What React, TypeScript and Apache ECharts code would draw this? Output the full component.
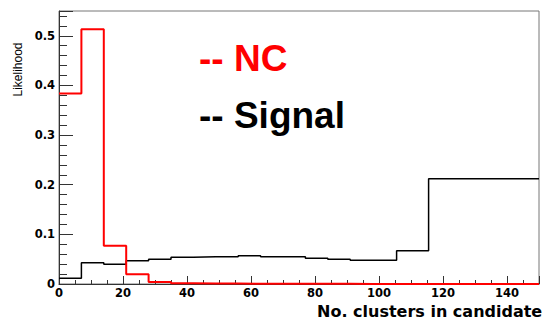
import React, { useEffect, useRef } from "react";
import * as echarts from "echarts";

// Histogram bin edges (No. clusters in candidate)
const binEdges = [0, 7, 14, 21, 28, 35, 42, 49, 56, 63, 70, 77, 84, 91, 98, 105.5, 115.5, 150];
// Likelihood per bin
const ncValues = [0.384, 0.513, 0.077, 0.0195, 0.004, 0.0015, 0.001, 0.0008, 0.0006, 0.0005, 0.0004, 0.0003, 0.0003, 0.0002, 0.0002, 0.0002, 0.0001];
const signalValues = [0.0115, 0.043, 0.04, 0.047, 0.05, 0.054, 0.055, 0.055, 0.057, 0.055, 0.055, 0.052, 0.05, 0.048, 0.048, 0.067, 0.212];
const xTickLabels = [0, 20, 40, 60, 80, 100, 120, 140];
const yTickLabels = [0, 0.1, 0.2, 0.3, 0.4, 0.5];
const legendTexts = ["-- NC", "-- Signal"];
const xTitle = "No. clusters in candidate";
const yTitle = "Likelihood";

function toSteps(values: number[]) {
  const pts: number[][] = values.map((v, i) => [binEdges[i], v]);
  pts.push([binEdges[binEdges.length - 1], values[values.length - 1]]);
  return pts;
}

export default function App() {
  const ref = useRef<HTMLDivElement>(null);
  useEffect(() => {
    if (!ref.current) return;
    const chart = echarts.init(ref.current, undefined, { renderer: "svg" });
    const tickFont = { fontFamily: "DejaVu Sans", fontWeight: "bold" as const, fontSize: 11.5, color: "#000" };
    chart.setOption({
      animation: false,
      backgroundColor: "#fff",
      grid: { left: 59, top: 11, width: 485, height: 273, show: true, borderColor: "#777", borderWidth: 1, backgroundColor: "transparent" },
      xAxis: {
        type: "value",
        min: 0,
        max: 150,
        interval: 20,
        axisLine: { show: true, onZero: false, lineStyle: { color: "#333", width: 1 } },
        axisTick: { show: true, inside: true, length: 8, lineStyle: { color: "#333" } },
        minorTick: { show: true, splitNumber: 4, length: 4, lineStyle: { color: "#333" } },
        splitLine: { show: false },
        axisLabel: {
          ...tickFont,
          margin: 3,
          formatter: (v: number) => (xTickLabels.indexOf(Math.round(v)) >= 0 && Math.abs(v - Math.round(v)) < 1e-6 ? String(Math.round(v)) : ""),
        },
      },
      yAxis: {
        type: "value",
        min: 0,
        max: 0.55,
        interval: 0.1,
        axisLine: { show: true, lineStyle: { color: "#333", width: 1 } },
        axisTick: { show: true, inside: true, length: 14, lineStyle: { color: "#333" } },
        minorTick: { show: true, splitNumber: 5, length: 8, lineStyle: { color: "#333" } },
        splitLine: { show: false },
        axisLabel: {
          ...tickFont,
          margin: 4,
          formatter: (v: number) => {
            const idx = yTickLabels.findIndex((t) => Math.abs(t - v) < 1e-6);
            if (idx < 0) return "";
            return idx === 0 ? "0" : yTickLabels[idx].toFixed(1);
          },
        },
      },
      series: [
        {
          type: "line",
          name: "Signal",
          step: "end",
          data: toSteps(signalValues),
          showSymbol: false,
          symbol: "none",
          lineStyle: { color: "#000", width: 1.5 },
          z: 3,
        },
        {
          type: "line",
          name: "NC",
          step: "end",
          data: toSteps(ncValues),
          showSymbol: false,
          symbol: "none",
          lineStyle: { color: "#ff0000", width: 2 },
          z: 4,
        },
      ],
      graphic: [
        {
          type: "text",
          x: 17.5,
          y: 69.5,
          rotation: Math.PI / 2,
          style: { text: yTitle, font: '12px "Liberation Sans"', fill: "#000", align: "center", verticalAlign: "middle" },
        },
        {
          type: "text",
          x: 199,
          y: 58.3,
          style: { text: legendTexts[0], font: 'bold 37px "Liberation Sans"', fill: "#ff0000", align: "left", verticalAlign: "middle" },
        },
        {
          type: "text",
          x: 199,
          y: 115.5,
          style: { text: legendTexts[1], font: 'bold 37px "Liberation Sans"', fill: "#000", align: "left", verticalAlign: "middle" },
        },
        {
          type: "text",
          x: 317,
          y: 311.5,
          style: { text: xTitle, font: 'bold 16px "DejaVu Sans"', fill: "#000", align: "left", verticalAlign: "middle" },
        },
      ],
    });
    return () => chart.dispose();
  }, []);
  return <div ref={ref} style={{ position: "absolute", left: 0, top: 0, width: 542, height: 320 }} />;
}
